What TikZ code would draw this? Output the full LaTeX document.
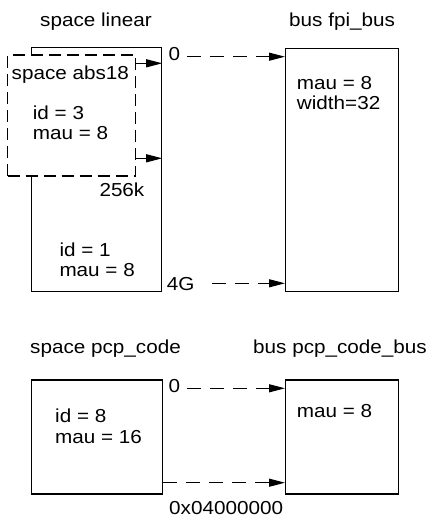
\documentclass[tikz,border=0pt]{standalone}
\usepackage{fontspec}
\setmainfont{Liberation Sans}[FakeStretch=1.1]
\usetikzlibrary{arrows.meta}
\begin{document}
\begin{tikzpicture}[x=1pt,y=-1pt,
  txt/.style={anchor=base west,inner sep=0pt,font=\fontsize{18.8}{20}\selectfont},
  box/.style={draw,line width=1.2pt,inner sep=0pt,anchor=north west,fill=white},
  dbox/.style={box,dash pattern=on 12pt off 6pt},
  sarr/.style={line width=1.2pt,-{Triangle[length=16pt,width=8pt]}},
  darr/.style={sarr,dash pattern=on 14pt off 9pt}]
\useasboundingbox (0,0) rectangle (433,518);
% top section
\node[txt] (tl1) at (40,26.7) {space linear};
\node[txt] (tl2) at (289,26.7) {bus fpi\_bus};
\node[box,minimum width=130pt,minimum height=244pt] (lin) at (31,47) {};
\node[dbox,minimum width=128pt,minimum height=121pt] (abs) at (7,54.5) {};
\node[box,minimum width=113pt,minimum height=243pt] (fpi) at (285,48) {};
\node[txt] (absl) at (11.5,80) {space abs18};
\node[txt] (absa) at (32.7,119.3) {id = 3};
\node[txt] (absb) at (32.7,139.3) {mau = 8};
\node[txt] (k256) at (99.3,196.7) {256k};
\node[txt] (lina) at (59.3,256) {id = 1};
\node[txt] (linb) at (59.3,276) {mau = 8};
\node[txt] (z1) at (168.3,60.7) {0};
\node[txt] (g4) at (166.7,290.7) {4G};
\node[txt] (fpia) at (296.7,89.3) {mau = 8};
\node[txt] (fpib) at (296.7,109.3) {width=32};
\coordinate (a1) at (135,63.3);
\coordinate (a2) at (135,158.3);
\draw[sarr] (a1) -- (a1 -| lin.east);
\draw[sarr] (a2) -- (a2 -| lin.east);
\coordinate (d1) at (187,56.7);
\coordinate (d2) at (212,283.3);
\draw[darr] (d1) -- (d1 -| fpi.west);
\draw[darr] (d2) -- (d2 -| fpi.west);
% bottom section
\node[txt] (bl1) at (30,353) {space pcp\_code};
\node[txt] (bl2) at (253,353) {bus pcp\_code\_bus};
\node[box,minimum width=131pt,minimum height=114pt] (pcp) at (31,379.3) {};
\node[box,minimum width=113pt,minimum height=114pt] (pcb) at (285,379.3) {};
\node[txt] (pcpa) at (55,422.7) {id = 8};
\node[txt] (pcpb) at (55,443.3) {mau = 16};
\node[txt] (pcba) at (296.7,417.3) {mau = 8};
\node[txt] (z2) at (168.3,392.7) {0};
\node[txt] (hex) at (169,514) {0x04000000};
\coordinate (d3) at (187,388.3);
\draw[darr] (d3) -- (d3 -| pcb.west);
\coordinate (d4) at (162,482.7);
\draw[darr] (d4 -| pcp.east) -- (d4 -| pcb.west);
\end{tikzpicture}
\end{document}
